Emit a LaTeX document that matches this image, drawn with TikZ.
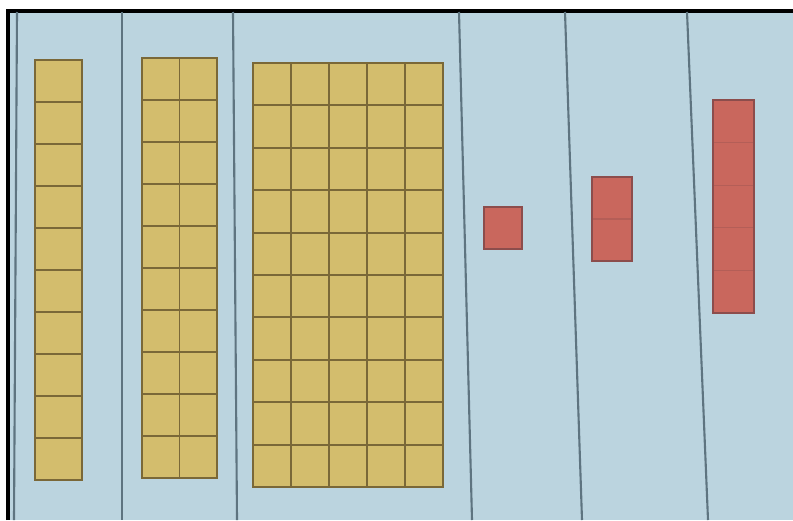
\documentclass[tikz,border=0pt]{standalone}
\usetikzlibrary{calc}
\definecolor{ScreenBlue}{HTML}{BBD4DF}
\definecolor{TileYellow}{HTML}{D3BD6D}
\definecolor{TileEdge}{HTML}{7A6838}
\definecolor{TileRed}{HTML}{C9675D}
\definecolor{RedEdge}{HTML}{8C4D4C}
\definecolor{DividerGray}{HTML}{5E7480}

% cell style, frame style, x0, y0, x1, y1, cols, rows
\newcommand{\blockgrid}[8]{%
  \foreach \i in {1,...,#7}{
    \foreach \j in {1,...,#8}{
      \pgfmathsetmacro\xa{#3+(\i-1)*(#5-#3)/#7}
      \pgfmathsetmacro\xb{#3+\i*(#5-#3)/#7}
      \pgfmathsetmacro\ya{#4+(\j-1)*(#6-#4)/#8}
      \pgfmathsetmacro\yb{#4+\j*(#6-#4)/#8}
      \filldraw[#1] (\xa,\ya) rectangle (\xb,\yb);
    }
  }
  \draw[#2] (#3,#4) rectangle (#5,#6);
}

\begin{document}
\begin{tikzpicture}[x=0.025cm, y=-0.025cm,
    frame/.style={black, line width=2.2pt},
    divider/.style={DividerGray, line width=1.5pt},
    ycell/.style={fill=TileYellow, draw=TileEdge, line width=1.3pt},
    yframe/.style={draw=TileEdge, line width=1.4pt},
    rcell/.style={fill=TileRed, draw=RedEdge!35!TileRed, line width=0.8pt},
    rframe/.style={draw=RedEdge, line width=1.2pt}
  ]
  \useasboundingbox (0,0) rectangle (793,520);
  % screen
  \fill[white] (0,0) rectangle (793,520);
  \fill[ScreenBlue] (8,11) rectangle (793,520);
  \draw[frame] (8,520) -- (8,11) -- (793,11);

  % column dividers
  \draw[divider] (17,12) -- (14,520);
  \draw[divider] (122,12) -- (122,520);
  \draw[divider] (233,12) -- (237,520);
  \draw[divider] (459,12) -- (472,520);
  \draw[divider] (565,12) -- (582,520);
  \draw[divider] (687,12) -- (708,520);

  % yellow blocks
  \blockgrid{ycell}{yframe}{35}{60}{82}{480}{1}{10}
  \blockgrid{ycell}{yframe}{142}{58}{217}{478}{2}{10}
  \blockgrid{ycell}{yframe}{253}{63}{443}{487}{5}{10}

  % red blocks
  \blockgrid{rcell}{rframe}{484}{207}{522}{249}{1}{1}
  \blockgrid{rcell}{rframe}{592}{177}{632}{261}{1}{2}
  \blockgrid{rcell}{rframe}{713}{100}{754}{313}{1}{5}
\end{tikzpicture}
\end{document}
